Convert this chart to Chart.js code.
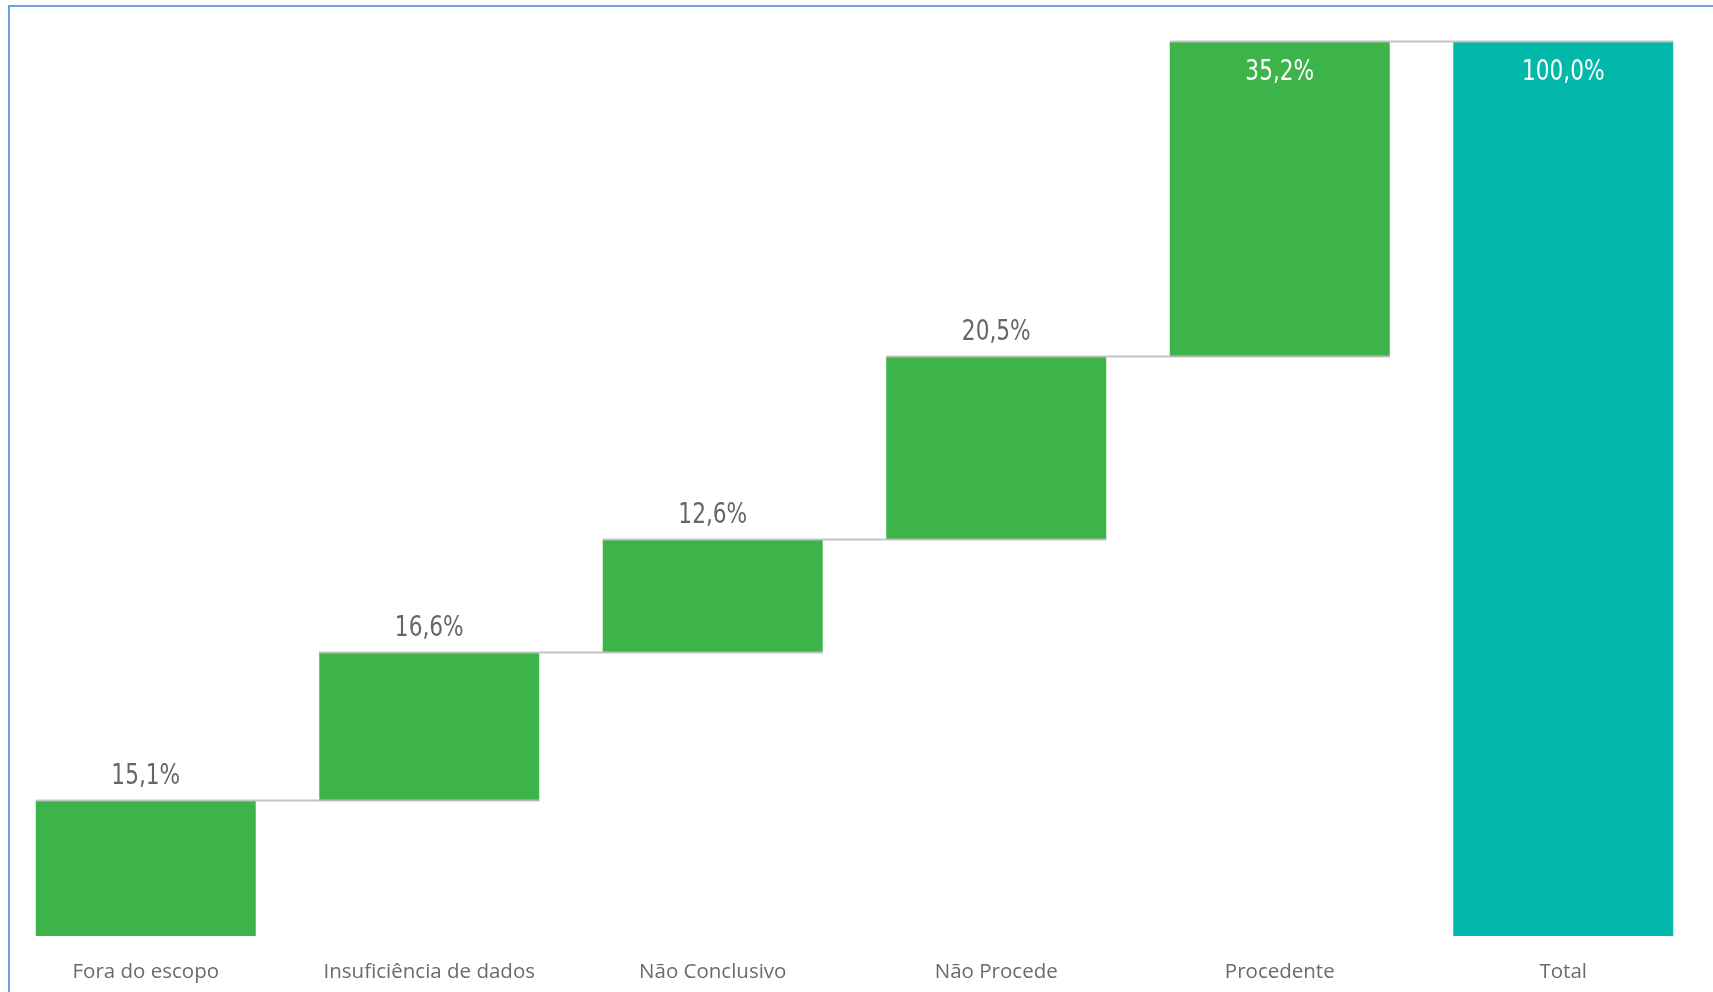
<!DOCTYPE html>
<html>
<head>
<meta charset="utf-8">
<script src="https://cdn.jsdelivr.net/npm/chart.js@4.4.1/dist/chart.umd.min.js"></script>
<style>
  html, body { margin: 0; padding: 0; background: #fff; }
  body { width: 1713px; height: 992px; position: relative; overflow: hidden; }
  #frame { position: absolute; left: 8px; top: 5px; right: 0; bottom: 0;
           border-top: 2px solid #6aa3e0; border-left: 2px solid #6aa3e0; }
  #wrap { position: absolute; left: 0; top: 0; width: 1713px; height: 992px; }
</style>
</head>
<body>
<div id="frame"></div>
<div id="wrap"><canvas id="c"></canvas></div>
<script>
const categories = ['Fora do escopo', 'Insuficiência de dados', 'Não Conclusivo', 'Não Procede', 'Procedente', 'Total'];
const increments = [15.1, 16.6, 12.6, 20.5, 35.2];
const totalValue = 100.0;
const stepColor = '#3cb44a';
const totalColor = '#01b8aa';

// build floating ranges from increments
const ranges = [];
let cum = 0;
for (const v of increments) { ranges.push([cum, cum + v]); cum += v; }
ranges.push([0, totalValue]);
const labelValues = increments.concat([totalValue]);
const colors = increments.map(() => stepColor).concat([totalColor]);

function fmt(v) { return v.toFixed(1).replace('.', ',') + '%'; }

const waterfallPlugin = {
  id: 'waterfall',
  afterDatasetsDraw(chart) {
    const ctx = chart.ctx;
    const meta = chart.getDatasetMeta(0);
    const y = chart.scales.y;
    const area = chart.chartArea;
    ctx.save();
    // connectors
    ctx.strokeStyle = 'rgba(190,190,190,0.9)';
    ctx.lineWidth = 2;
    for (let i = 0; i < meta.data.length - 1; i++) {
      const a = meta.data[i], b = meta.data[i + 1];
      const level = ranges[i][1];
      const py = Math.round(y.getPixelForValue(level)) - 0.5;
      ctx.beginPath();
      ctx.moveTo(a.x - a.width / 2, py);
      ctx.lineTo(b.x + b.width / 2, py);
      ctx.stroke();
    }
    // labels (condensed look)
    ctx.textAlign = 'center';
    ctx.textBaseline = 'middle';
    const sx = 0.86;
    meta.data.forEach((bar, i) => {
      const top = Math.min(bar.y, bar.base);
      const txt = fmt(labelValues[i]);
      let ty, color, font;
      if (top - area.top < 45) {
        font = "500 28px 'DejaVu Sans Condensed', 'Liberation Sans Narrow', Roboto, sans-serif";
        color = '#ffffff';
        ty = top + 31;
      } else {
        font = "28px 'DejaVu Sans Condensed', 'Liberation Sans Narrow', Roboto, sans-serif";
        color = '#666666';
        ty = top - 24;
      }
      ctx.save();
      ctx.translate(bar.x, ty);
      ctx.scale(sx, 1);
      ctx.font = font;
      ctx.fillStyle = color;
      ctx.fillText(txt, 0, 0);
      ctx.restore();
    });
    ctx.restore();
  }
};

new Chart(document.getElementById('c'), {
  type: 'bar',
  data: {
    labels: categories,
    datasets: [{
      data: ranges,
      backgroundColor: colors,
      borderWidth: 0,
      barPercentage: 0.776,
      categoryPercentage: 1.0
    }]
  },
  options: {
    responsive: true,
    maintainAspectRatio: false,
    animation: false,
    layout: { padding: { left: 4, right: 8, top: 42, bottom: 8 } },
    plugins: { legend: { display: false }, tooltip: { enabled: false } },
    scales: {
      x: {
        grid: { display: false, drawTicks: false },
        border: { display: false },
        afterFit(scale) { scale.height = 48; },
        ticks: {
          padding: 24,
          color: '#6b6b6b',
          font: { family: "'Open Sans', sans-serif", size: 20.5 },
          maxRotation: 0,
          autoSkip: false
        }
      },
      y: {
        display: false,
        min: 0,
        max: 100
      }
    }
  },
  plugins: [waterfallPlugin]
});
</script>
</body>
</html>
